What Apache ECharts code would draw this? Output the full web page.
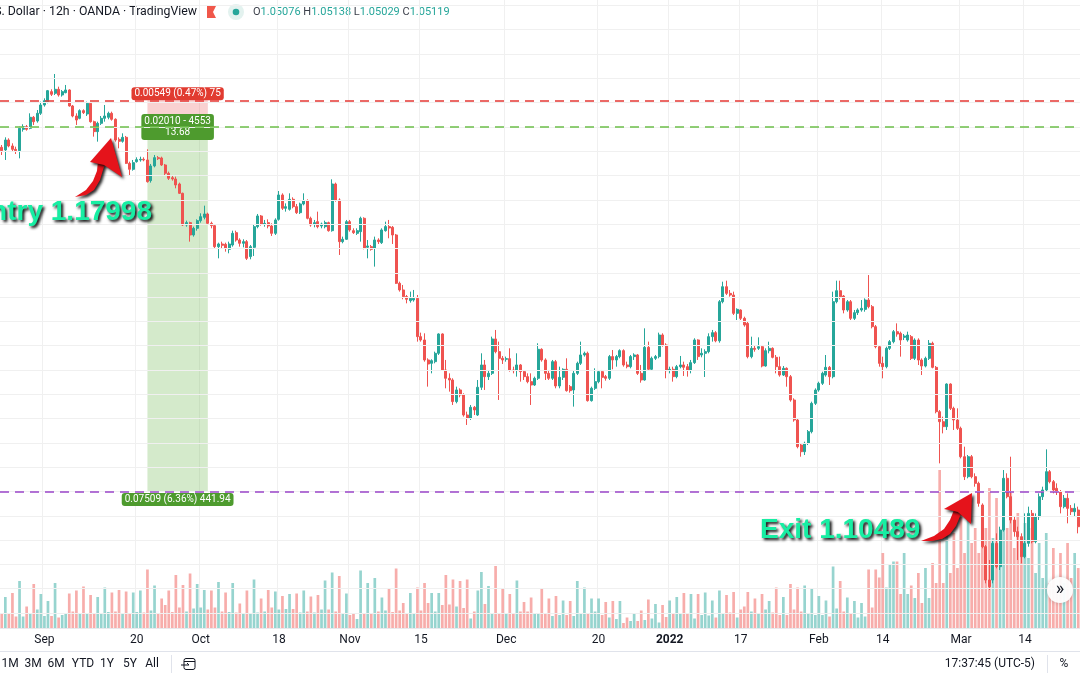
<!DOCTYPE html>
<html><head><meta charset="utf-8">
<script src="https://cdn.jsdelivr.net/npm/echarts@6/dist/echarts.min.js"></script>
<style>html,body{margin:0;padding:0;background:#fff;}#c{width:1080px;height:675px;}</style>
</head><body><div id="c"></div>
<script>
// ---------------- DATA ----------------
const startDate = '2021-08-24';
const endDate = '2022-03-23';
const tickLabels = [
  ['2021-09-01','Sep'],['2021-09-20','20'],['2021-10-01','Oct'],['2021-10-18','18'],
  ['2021-11-01','Nov'],['2021-11-15','15'],['2021-12-01','Dec'],['2021-12-20','20'],
  ['2022-01-03','2022'],['2022-01-17','17'],['2022-02-01','Feb'],['2022-02-14','14'],
  ['2022-03-01','Mar'],['2022-03-14','14']
];
// [open, close, low, high] per 12h bar
const ohlc = [
[1.17581,1.17512,1.17423,1.17628],[1.17526,1.17731,1.17320,1.17786],[1.17731,1.17608,1.17581,1.17766],[1.17608,1.17539,1.17491,1.17663],
[1.17539,1.17512,1.17443,1.17594],[1.17512,1.17971,1.17354,1.18006],[1.17951,1.18006,1.17903,1.18054],[1.18006,1.17951,1.17923,1.18040],
[1.17971,1.18198,1.17951,1.18280],[1.18198,1.18108,1.18040,1.18225],[1.18122,1.18280,1.18088,1.18348],[1.18280,1.18451,1.18246,1.18520],
[1.18451,1.18540,1.18417,1.18588],[1.18520,1.18746,1.18486,1.18760],[1.18726,1.18671,1.18636,1.18774],[1.18691,1.18774,1.18657,1.19089],
[1.18774,1.18657,1.18623,1.18828],[1.18657,1.18726,1.18623,1.18760],[1.18705,1.18760,1.18691,1.18863],[1.18760,1.18431,1.18417,1.18774],
[1.18431,1.18225,1.18198,1.18451],[1.18225,1.18143,1.18040,1.18280],[1.18177,1.18335,1.18157,1.18362],[1.18335,1.18294,1.18266,1.18362],
[1.18266,1.18486,1.18225,1.18520],[1.18486,1.18108,1.18088,1.18506],[1.18108,1.17903,1.17800,1.18129],[1.17903,1.18074,1.17697,1.18108],
[1.18074,1.18177,1.18040,1.18225],[1.18177,1.18225,1.18108,1.18451],[1.18198,1.18280,1.18157,1.18314],[1.18280,1.18157,1.18129,1.18314],
[1.18157,1.17731,1.17697,1.18177],[1.17745,1.17704,1.17560,1.17786],[1.17704,1.17786,1.17676,1.17868],[1.17786,1.17251,1.17238,1.17814],
[1.17251,1.17128,1.17011,1.17286],[1.17128,1.17265,1.17100,1.17320],[1.17286,1.17327,1.17265,1.17375],[1.17320,1.17334,1.17286,1.17388],
[1.17334,1.17320,1.17293,1.17375],[1.17320,1.16874,1.16854,1.17539],[1.16895,1.17197,1.16854,1.17238],[1.17197,1.17368,1.17169,1.17423],
[1.17368,1.17347,1.17320,1.17402],[1.17361,1.17217,1.17197,1.17388],[1.17217,1.17046,1.17011,1.17238],[1.17046,1.16943,1.16908,1.17080],
[1.16956,1.16929,1.16895,1.16991],[1.16929,1.16806,1.16737,1.16977],[1.16826,1.16634,1.16620,1.16854],[1.16634,1.15983,1.15962,1.16648],
[1.15983,1.16031,1.15948,1.16072],[1.16031,1.15777,1.15640,1.16051],[1.15777,1.15914,1.15743,1.15948],[1.15914,1.16072,1.15866,1.16099],
[1.16072,1.16154,1.16031,1.16223],[1.16140,1.16209,1.16099,1.16380],[1.16209,1.16017,1.16003,1.16236],[1.16017,1.15969,1.15914,1.16051],
[1.15969,1.15537,1.15503,1.16003],[1.15537,1.15592,1.15297,1.15619],[1.15592,1.15565,1.15503,1.15640],[1.15585,1.15503,1.15434,1.15619],
[1.15482,1.15592,1.15400,1.15640],[1.15571,1.15811,1.15537,1.15866],[1.15825,1.15674,1.15640,1.15866],[1.15674,1.15606,1.15537,1.15709],
[1.15606,1.15640,1.15523,1.15688],[1.15640,1.15297,1.15263,1.15674],[1.15332,1.15537,1.15277,1.15571],[1.15523,1.15948,1.15345,1.15983],
[1.15948,1.16168,1.15914,1.16209],[1.16168,1.16003,1.15969,1.16188],[1.16003,1.16017,1.15948,1.16086],[1.16031,1.15962,1.15914,1.16099],
[1.15962,1.15811,1.15757,1.16017],[1.15811,1.16086,1.15777,1.16120],[1.16099,1.16600,1.16072,1.16682],[1.16600,1.16326,1.16291,1.16634],
[1.16326,1.16360,1.16257,1.16428],[1.16305,1.16511,1.16278,1.16634],[1.16511,1.16360,1.16326,1.16552],[1.16360,1.16236,1.16209,1.16415],
[1.16236,1.16415,1.16209,1.16442],[1.16415,1.16483,1.16387,1.16634],[1.16483,1.16120,1.16099,1.16511],[1.16120,1.15983,1.15948,1.16154],
[1.16003,1.16031,1.15935,1.16086],[1.16051,1.15948,1.15914,1.16257],[1.15962,1.16003,1.15914,1.16031],[1.15948,1.16031,1.15914,1.16072],
[1.16031,1.15866,1.15845,1.16051],[1.15866,1.16826,1.15845,1.16922],[1.16826,1.16497,1.16463,1.16854],[1.16497,1.15640,1.15366,1.16531],
[1.15640,1.15688,1.15606,1.15743],[1.15688,1.16051,1.15674,1.16086],[1.16051,1.15880,1.15845,1.16086],[1.15866,1.15825,1.15798,1.15914],
[1.15811,1.15866,1.15777,1.15914],[1.15846,1.16120,1.15640,1.16154],[1.16120,1.15503,1.15482,1.16141],[1.15524,1.15551,1.15297,1.15674],
[1.15537,1.15482,1.15455,1.15571],[1.15503,1.15674,1.15126,1.15743],[1.15674,1.15640,1.15592,1.15709],[1.15619,1.15880,1.15592,1.15914],
[1.15866,1.15949,1.15846,1.16051],[1.15949,1.15921,1.15709,1.16086],[1.15935,1.15777,1.15592,1.15962],[1.15777,1.14783,1.14769,1.15798],
[1.14783,1.14646,1.14612,1.14817],[1.14646,1.14509,1.14454,1.14749],[1.14509,1.14454,1.14371,1.14543],[1.14426,1.14474,1.14385,1.14612],
[1.14440,1.14474,1.14406,1.14646],[1.14474,1.13686,1.13583,1.14543],[1.13686,1.13617,1.13583,1.13768],[1.13617,1.13206,1.13171,1.13754],
[1.13206,1.13123,1.12657,1.13240],[1.13137,1.13192,1.12931,1.13220],[1.13171,1.13343,1.13137,1.13377],[1.13343,1.13741,1.13309,1.13754],
[1.13741,1.13000,1.12986,1.13754],[1.13000,1.12829,1.12623,1.13206],[1.12829,1.12794,1.12554,1.12931],[1.12794,1.12349,1.12280,1.12829],
[1.12349,1.12589,1.12314,1.12657],[1.12589,1.12486,1.12438,1.12623],[1.12486,1.12074,1.12040,1.12520],[1.12074,1.12006,1.11869,1.12143],
[1.12006,1.12232,1.11972,1.12280],[1.12232,1.12177,1.12074,1.12259],[1.12074,1.12644,1.12054,1.12794],[1.12644,1.13103,1.12589,1.13343],
[1.13103,1.12863,1.12589,1.13206],[1.12863,1.12931,1.12794,1.13000],[1.12931,1.13638,1.12897,1.13686],[1.13638,1.13377,1.13343,1.13823],
[1.13377,1.13240,1.12383,1.13583],[1.13240,1.13206,1.13123,1.13288],[1.13220,1.13233,1.13171,1.13275],[1.13233,1.13000,1.12966,1.13446],
[1.13000,1.12986,1.12931,1.13068],[1.13000,1.13103,1.12863,1.13343],[1.13103,1.12966,1.12760,1.13123],[1.12966,1.12863,1.12794,1.12986],
[1.12863,1.12760,1.12726,1.12931],[1.12760,1.12691,1.12280,1.12931],[1.12691,1.12829,1.12671,1.12863],[1.12829,1.13425,1.12794,1.13549],
[1.13425,1.13206,1.13171,1.13446],[1.13206,1.12931,1.12794,1.13240],[1.12931,1.12829,1.12794,1.13000],[1.12829,1.13171,1.12794,1.13206],
[1.13171,1.12671,1.12623,1.13206],[1.12671,1.12849,1.12623,1.13068],[1.12849,1.13014,1.12794,1.13034],[1.13014,1.12575,1.12554,1.13240],
[1.12657,1.12575,1.12534,1.12691],[1.12589,1.12931,1.12246,1.12986],[1.12931,1.13137,1.12897,1.13171],[1.13137,1.13309,1.13103,1.13583],
[1.13309,1.13343,1.13275,1.13377],[1.13343,1.12369,1.12349,1.13377],[1.12369,1.12623,1.12349,1.12657],[1.12623,1.12760,1.12589,1.13034],
[1.12760,1.12966,1.12726,1.13000],[1.12966,1.12849,1.12623,1.13000],[1.12863,1.12829,1.12780,1.12897],[1.12829,1.13275,1.12794,1.13309],
[1.13275,1.13206,1.13014,1.13411],[1.13206,1.13275,1.13068,1.13309],[1.13275,1.13398,1.13240,1.13425],[1.13398,1.13103,1.13068,1.13425],
[1.13103,1.13068,1.13034,1.13171],[1.13068,1.13275,1.13034,1.13309],[1.13275,1.13309,1.13206,1.13343],[1.13309,1.12931,1.12897,1.13329],
[1.12931,1.12794,1.12739,1.13103],[1.12794,1.13466,1.12780,1.13857],[1.13466,1.13014,1.12986,1.13583],[1.13014,1.13240,1.12986,1.13275],
[1.13240,1.13275,1.13206,1.13309],[1.13275,1.13720,1.13240,1.13768],[1.13720,1.13514,1.13480,1.13754],[1.13514,1.12986,1.12829,1.13549],
[1.13000,1.13014,1.12931,1.13068],[1.13014,1.12863,1.12760,1.13068],[1.12863,1.13068,1.12829,1.13103],[1.13068,1.13103,1.13034,1.13288],
[1.13103,1.13055,1.12877,1.13171],[1.13068,1.13000,1.12863,1.13123],[1.13000,1.13151,1.12931,1.13206],[1.13151,1.13617,1.13123,1.13652],
[1.13617,1.13275,1.13206,1.13631],[1.13309,1.13343,1.13261,1.13446],[1.13343,1.13377,1.12856,1.13425],[1.13377,1.13686,1.13343,1.13754],
[1.13686,1.13768,1.13583,1.13823],[1.13768,1.13600,1.13570,1.13800],[1.13600,1.14405,1.13561,1.14439],[1.14405,1.14713,1.14371,1.14816],
[1.14713,1.14576,1.14542,1.14837],[1.14576,1.14542,1.14508,1.14645],[1.14542,1.14165,1.14131,1.14611],[1.14165,1.14247,1.14028,1.14268],
[1.14234,1.14062,1.14028,1.14247],[1.14062,1.13925,1.13891,1.14096],[1.13959,1.13274,1.13239,1.13994],[1.13274,1.13445,1.13239,1.13685],
[1.13445,1.13424,1.13376,1.13513],[1.13445,1.13479,1.13411,1.13671],[1.13479,1.13082,1.13054,1.13513],[1.13082,1.13397,1.13068,1.13445],
[1.13397,1.13445,1.13342,1.13582],[1.13445,1.13260,1.13239,1.13466],[1.13260,1.13068,1.12931,1.13308],[1.13068,1.12896,1.12862,1.13274],
[1.12896,1.13034,1.12876,1.13082],[1.13034,1.12862,1.12656,1.13054],[1.12862,1.12382,1.12348,1.12896],[1.12382,1.11971,1.11936,1.12417],
[1.11971,1.11422,1.11388,1.12005],[1.11456,1.11319,1.11216,1.11491],[1.11319,1.11491,1.11251,1.11525],[1.11491,1.11731,1.11456,1.11765],
[1.11731,1.12313,1.11696,1.12348],[1.12313,1.12588,1.12279,1.12622],[1.12588,1.12725,1.12553,1.12759],[1.12725,1.12931,1.12691,1.12965],
[1.12896,1.13054,1.12862,1.13308],[1.13054,1.12862,1.12691,1.13082],[1.12862,1.14405,1.12828,1.14611],[1.14405,1.14631,1.14371,1.14837],
[1.14631,1.14508,1.14453,1.14837],[1.14521,1.14234,1.14165,1.14542],[1.14234,1.14405,1.14199,1.14439],[1.14405,1.14062,1.14028,1.14439],
[1.14062,1.14179,1.14028,1.14234],[1.14179,1.14234,1.14131,1.14268],[1.14234,1.14268,1.14199,1.14439],[1.14247,1.14439,1.14199,1.14473],
[1.14439,1.14302,1.14268,1.14953],[1.14302,1.13891,1.13856,1.14336],[1.13891,1.13479,1.13445,1.13925],[1.13479,1.13136,1.13068,1.13513],
[1.13136,1.13068,1.12828,1.13274],[1.13068,1.13445,1.13034,1.13479],[1.13445,1.13582,1.13411,1.13616],[1.13582,1.13788,1.13548,1.13822],
[1.13788,1.13740,1.13685,1.13959],[1.13754,1.13616,1.13274,1.13788],[1.13671,1.13699,1.13616,1.13740],[1.13616,1.13719,1.13582,1.13788],
[1.13685,1.13239,1.13205,1.13719],[1.13239,1.13616,1.13205,1.13651],[1.13616,1.13205,1.13102,1.13651],[1.13205,1.13082,1.12896,1.13239],
[1.13082,1.13239,1.13054,1.13274],[1.13239,1.13548,1.13205,1.13616],[1.13548,1.13054,1.13034,1.13582],[1.13054,1.12142,1.12108,1.13082],
[1.12142,1.11936,1.11079,1.12176],[1.11936,1.11834,1.11696,1.12039],[1.11834,1.12711,1.11765,1.12725],[1.12711,1.12211,1.12176,1.12725],
[1.12211,1.11971,1.11765,1.12245],[1.11971,1.11799,1.11765,1.12211],[1.11799,1.11216,1.11182,1.11834],[1.11216,1.10805,1.10736,1.11422],
[1.10805,1.11216,1.10771,1.11251],[1.11216,1.10805,1.10771,1.11251],[1.10805,1.10668,1.10599,1.10874],[1.10668,1.10256,1.10188,1.10702],
[1.10222,1.09365,1.09331,1.10256],[1.09365,1.08679,1.08611,1.09399],[1.08679,1.08542,1.08474,1.09091],[1.08679,1.09434,1.08611,1.09502],
[1.09434,1.08954,1.08919,1.09639],[1.08954,1.09708,1.08885,1.09776],[1.09708,1.10771,1.09674,1.10942],[1.10771,1.10393,1.10359,1.10874],
[1.10393,1.09913,1.09845,1.11216],[1.09913,1.09674,1.09571,1.09982],[1.09674,1.09571,1.09091,1.09776],[1.09571,1.09159,1.09022,1.09639],
[1.09159,1.09434,1.09125,1.10050],[1.09434,1.10050,1.09365,1.10188],[1.10050,1.09468,1.09434,1.10119],[1.09468,1.09982,1.09434,1.10050],
[1.09982,1.10393,1.09913,1.10462],[1.10393,1.10531,1.10325,1.10599],[1.10531,1.10908,1.10496,1.11367],[1.10908,1.10702,1.10668,1.10942],
[1.10702,1.10531,1.10462,1.10736],[1.10565,1.10496,1.10428,1.10668],[1.10496,1.10188,1.10050,1.10531],[1.10188,1.10359,1.10153,1.10428],
[1.10359,1.10153,1.09845,1.10462],[1.10153,1.10085,1.10016,1.10222],[1.10085,1.10153,1.09982,1.10256],[1.10119,1.09776,1.09639,1.10188]
];
// tick volume, thousands
const volumes = [
28,62,28,70,23,94,23,43,28,88, 37,68,24,54,24,90,21,26,30,69, 33,75,28,83,30,66,30,62,28,81,
32,71,33,76,30,73,29,71,32,75, 31,117,35,85,28,59,46,75,32,106, 41,86,33,109,39,88,41,76,37,75,
41,92,33,71,32,90,31,49,30,75, 30,97,31,59,33,76,41,73,37,64, 38,68,38,69,31,75,33,63,31,66,
37,95,37,111,33,104,30,69,26,30, 18,115,30,90,30,100,33,61,35,79, 32,119,35,50,28,70,30,81,35,90,
50,70,33,70,46,106,47,97,43,94, 40,97,19,33,75,112,48,84,30,124, 28,79,28,68,28,95,33,52,33,61,30,
30,
78,28,59,24,64,26,55,26,54,24, 94,30,81,30,59,33,59,26,52,21, 54,18,54,10,21,14,28,14,35,16,
57,19,48,11,46,22,55,28,62,30, 70,30,68,19,68,26,71,25,55,21, 75,28,66,31,72,21,37,43,72,33,
59,30,68,37,54,31,81,26,62,26, 88,37,81,33,85,30,80,26,64,26, 55,23,123,39,94,33,61,30,54,21,
50,23,117,41,117,101,150,81,128,133, 133,68,150,68,85,
60,110,50,120,60,130,90,316,90,200, 110,190,120,230,150,260,170,200,150,240,
200,280,180,260,170,280,200,270,160,230, 150,210,140,200,110,170,100,190,90,160,
80,150,90,170,100,150,120
];
const gridLevels = [1.080,1.085,1.090,1.095,1.100,1.105,1.110,1.115,1.120,1.125,1.130,1.135,1.140,1.145,1.150,1.155,1.160,1.165,1.170,1.175,1.180,1.185,1.190,1.195,1.200,1.205];
const stopPrice = 1.18547, entryPrice = 1.17998, targetPrice = 1.10489;
const positionStart = '2021-09-21 17:00', positionEnd = '2021-10-04 05:00';
const riskText = '0.00549 (0.47%) 75';
const midText = '0.02010 - 4553\n13.68';
const rewardText = '0.07509 (6.36%) 441.94';
const headerTitle = 'Euro / U.S. Dollar · 12h · OANDA · TradingView';
const ohlcLegend = [['O','1.05076'],['H','1.05138'],['L','1.05029'],['C','1.05119']];
const rangeButtons = ['1M','3M','6M','YTD','1Y','5Y','All'];
const clockText = '17:37:45 (UTC-5)';

// ---------------- BUILD ----------------
const cats = [];
for (let d = new Date(startDate + 'T00:00:00Z'); d <= new Date(endDate + 'T00:00:00Z'); d.setUTCDate(d.getUTCDate() + 1)) {
  const wd = d.getUTCDay();
  if (wd === 0 || wd === 6) continue;
  const s = d.toISOString().slice(0, 10);
  cats.push(s + ' 05:00', s + ' 17:00');
}
const labelByCat = {};
tickLabels.forEach(([d, l]) => { labelByCat[d + ' 05:00'] = l; });
const isTick = (i, v) => labelByCat[v] !== undefined;

const UP = '#26a69a', DOWN = '#ef5350';
const UPV = 'rgba(38,166,154,0.48)', DOWNV = 'rgba(239,83,80,0.48)';
const FONT = 'Roboto';
const priceMax = 1.20611, priceMin = 1.07692, volMax = 1256;

const chart = echarts.init(document.getElementById('c'), null, {renderer: 'canvas', width: 1080, height: 675});

const labelBase = {color: '#fff', fontSize: 10, fontFamily: FONT, padding: [1, 3], borderRadius: 3, lineHeight: 11};

const graphics = [];
// header
graphics.push({type: 'text', x: 197, y: 12, style: {text: headerTitle, textAlign: 'right', textVerticalAlign: 'middle', font: '12.3px ' + FONT, fill: '#131722'}});
graphics.push({type: 'polygon', shape: {points: [[207,6],[216,6],[213,12],[216,18],[207,18]]}, style: {fill: '#f0574a'}});
graphics.push({type: 'circle', shape: {cx: 236, cy: 12, r: 8}, style: {fill: '#e3f2ef'}});
graphics.push({type: 'circle', shape: {cx: 236, cy: 12, r: 3.3}, style: {fill: '#26a69a'}});
graphics.push({type: 'text', x: 253, y: 12, style: {
  text: ohlcLegend.map(([k, v]) => '{k|' + k + '}{v|' + v + '}').join(' '),
  textVerticalAlign: 'middle', font: '11px ' + FONT,
  rich: {k: {fill: '#3b3f4a', fontSize: 11, fontFamily: FONT}, v: {fill: '#26a69a', fontSize: 11, fontFamily: FONT}}
}});
// bottom toolbar
graphics.push({type: 'line', shape: {x1: 0, y1: 651.5, x2: 1080, y2: 651.5}, style: {stroke: '#e0e3eb', lineWidth: 1}});
const btnX = [10, 33, 56, 83, 107, 130, 152];
rangeButtons.forEach((t, i) => graphics.push({type: 'text', x: btnX[i], y: 664, style: {text: t, textAlign: 'center', textVerticalAlign: 'middle', font: '12px ' + FONT, fill: '#131722'}}));
graphics.push({type: 'line', shape: {x1: 171.5, y1: 655, x2: 171.5, y2: 673}, style: {stroke: '#e0e3eb', lineWidth: 1}});
graphics.push({type: 'rect', shape: {x: 184, y: 658.5, width: 11, height: 11, r: 2}, style: {fill: 'none', stroke: '#131722', lineWidth: 1}});
graphics.push({type: 'line', shape: {x1: 184, y1: 661.5, x2: 195, y2: 661.5}, style: {stroke: '#131722', lineWidth: 1}});
graphics.push({type: 'polyline', shape: {points: [[181,665],[189,665],[187,663]]}, style: {stroke: '#131722', fill: 'none', lineWidth: 1}});
graphics.push({type: 'text', x: 1035, y: 664, style: {text: clockText, textAlign: 'right', textVerticalAlign: 'middle', font: '12px ' + FONT, fill: '#131722'}});
graphics.push({type: 'line', shape: {x1: 1047.5, y1: 655, x2: 1047.5, y2: 673}, style: {stroke: '#e0e3eb', lineWidth: 1}});
graphics.push({type: 'text', x: 1064, y: 664, style: {text: '%', textAlign: 'center', textVerticalAlign: 'middle', font: '12px ' + FONT, fill: '#131722'}});
// scroll button
graphics.push({type: 'circle', z: 50, shape: {cx: 1060, cy: 590, r: 13}, style: {fill: 'rgba(255,255,255,0.95)', shadowColor: 'rgba(0,0,0,0.2)', shadowBlur: 4}});
graphics.push({type: 'text', z: 51, x: 1060, y: 589, style: {text: '»', textAlign: 'center', textVerticalAlign: 'middle', font: '18px ' + FONT, fill: '#131722'}});
// annotations
const annoStyle = {fill: '#17eea3', textShadowColor: 'rgba(0,0,0,0.95)', textShadowBlur: 3, textShadowOffsetX: 2, textShadowOffsetY: 2,
                   shadowColor: 'rgba(0,0,0,0.95)', shadowBlur: 3, shadowOffsetX: 2, shadowOffsetY: 2};
graphics.push({type: 'text', x: 152, y: 212, z: 60, style: Object.assign({text: 'Entry 1.17998', textAlign: 'right', textVerticalAlign: 'middle', font: 'bold 28px "Liberation Sans"'}, annoStyle)});
graphics.push({type: 'text', x: 760, y: 530, z: 60, style: Object.assign({text: 'Exit 1.10489', textAlign: 'left', textVerticalAlign: 'middle', font: 'bold 28px "Liberation Sans"'}, annoStyle)});
const arrowStyle = {fill: '#e5131b', shadowColor: 'rgba(0,0,0,0.85)', shadowBlur: 3, shadowOffsetX: 2, shadowOffsetY: 2};
graphics.push({type: 'polygon', z: 60, shape: {points: [[75,197],[86,195],[94,190],[100,180],[103,170],[105,164],[98,161],[97,171],[93,181],[86,190]]}, style: arrowStyle});
graphics.push({type: 'polygon', z: 60, shape: {points: [[111,138],[122,177],[104,165],[90,162]]}, style: arrowStyle});
graphics.push({type: 'polygon', z: 60, shape: {points: [[921,541],[932,541],[942,539],[950,534],[956,526],[961,514],[954,510],[950,520],[944,529],[934,536]]}, style: arrowStyle});
graphics.push({type: 'polygon', z: 60, shape: {points: [[972,493],[971,524],[958,512],[944,509]]}, style: arrowStyle});

const option = {
  animation: false,
  backgroundColor: '#ffffff',
  grid: [
    {left: 0, right: 0, top: 0, bottom: 47},
    {left: 0, right: 0, top: 0, bottom: 47}
  ],
  xAxis: [
    {type: 'category', data: cats, gridIndex: 0, axisLine: {show: false}, axisTick: {show: false}, axisLabel: {show: false},
     splitLine: {show: true, interval: isTick, lineStyle: {color: '#f0f0f0', width: 1}}},
    {type: 'category', data: cats, gridIndex: 1, axisLine: {show: true, lineStyle: {color: '#e8e8ec'}}, axisTick: {show: false},
     splitLine: {show: false},
     axisLabel: {interval: isTick, margin: 6, color: '#131722', fontSize: 12, fontFamily: FONT,
       formatter: v => labelByCat[v] === '2022' ? '{b|2022}' : labelByCat[v],
       rich: {b: {fontWeight: 'bold', fontSize: 12, fontFamily: FONT, color: '#131722'}}}}
  ],
  yAxis: [
    {type: 'value', gridIndex: 0, min: priceMin, max: priceMax, show: false},
    {type: 'value', gridIndex: 1, min: 0, max: volMax, show: false}
  ],
  series: [
    {
      name: 'levels', type: 'line', xAxisIndex: 0, yAxisIndex: 0, data: ohlc.map(r => r[1]), z: 1, silent: true,
      symbol: 'none', lineStyle: {opacity: 0},
      markLine: {silent: true, precision: 5, symbol: ['none', 'none'], label: {show: false}, animation: false,
        lineStyle: {color: '#f0f0f0', width: 1, type: 'solid'},
        data: gridLevels.map(v => ({yAxis: v}))},
      markArea: {silent: true, animation: false, data: [
        [{name: riskText, xAxis: positionStart, yAxis: stopPrice, itemStyle: {color: 'rgba(230,70,70,0.25)'},
          label: Object.assign({show: true, position: 'top', distance: 0, backgroundColor: '#e13b30'}, labelBase)},
         {xAxis: positionEnd, yAxis: entryPrice}],
        [{name: rewardText, xAxis: positionStart, yAxis: entryPrice, itemStyle: {color: 'rgba(112,185,82,0.3)'},
          label: Object.assign({show: true, position: 'bottom', distance: 1, backgroundColor: '#4e9b2e'}, labelBase)},
         {xAxis: positionEnd, yAxis: targetPrice}],
        [{name: midText, xAxis: positionStart, yAxis: entryPrice, itemStyle: {color: 'rgba(0,0,0,0)'},
          label: Object.assign({show: true, position: 'inside', backgroundColor: '#4e9b2e', align: 'center'}, labelBase, {padding: [2, 3]})},
         {xAxis: positionEnd, yAxis: entryPrice}]
      ]}
    },
    {
      name: 'Volume', type: 'bar', xAxisIndex: 1, yAxisIndex: 1, z: 2, barWidth: '76%', silent: true,
      data: volumes.map((v, i) => ({value: v, itemStyle: {color: ohlc[i][1] >= ohlc[i][0] ? UPV : DOWNV}}))
    },
    {
      name: 'EURUSD', type: 'candlestick', xAxisIndex: 0, yAxisIndex: 0, z: 3, barWidth: '70%',
      data: ohlc,
      itemStyle: {color: UP, color0: DOWN, borderColor: UP, borderColor0: DOWN, borderWidth: 1},
      markLine: {silent: true, precision: 5, symbol: ['none', 'none'], label: {show: false}, animation: false,
        data: [
          {yAxis: stopPrice, lineStyle: {color: '#e53935', type: [9, 6], width: 1.6}},
          {yAxis: entryPrice, lineStyle: {color: '#6cbf49', type: [9, 6], width: 1.6}},
          {yAxis: targetPrice, lineStyle: {color: '#9b45c9', type: [9, 6], width: 1.6}}
        ]}
    }
  ],
  graphic: graphics
};
chart.setOption(option);
</script>
</body></html>
